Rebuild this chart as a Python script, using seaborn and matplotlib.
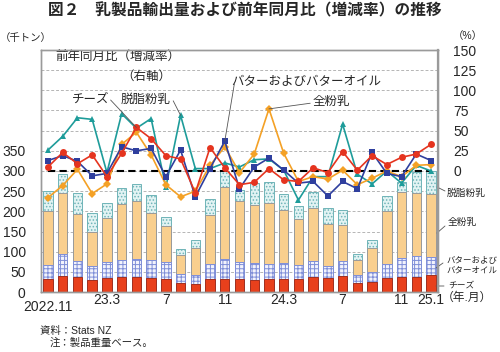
import numpy as np
import matplotlib
matplotlib.use("Agg")
import matplotlib.pyplot as plt
import seaborn as sns

# ---------------- data ----------------
months = ["2022.11", "2022.12", "2023.1", "2023.2", "2023.3", "2023.4", "2023.5",
          "2023.6", "2023.7", "2023.8", "2023.9", "2023.10", "2023.11", "2023.12",
          "2024.1", "2024.2", "2024.3", "2024.4", "2024.5", "2024.6", "2024.7",
          "2024.8", "2024.9", "2024.10", "2024.11", "2024.12", "2025.1"]
tick_idx = [0, 4, 8, 12, 16, 20, 24, 26]
tick_labels = ["2022.11", "23.3", "7", "11", "24.3", "7", "11", "25.1"]

# export volume (thousand tonnes)
cheese = [31, 39, 36, 30, 35, 36, 37, 34, 33, 23, 20, 31, 32, 31, 29, 31, 31, 31, 36, 34, 40, 22, 24, 34, 36, 38, 41]
butter = [37, 54, 41, 34, 40, 43, 45, 45, 41, 22, 21, 39, 51, 43, 44, 38, 42, 37, 41, 30, 37, 19, 26, 36, 48, 52, 47]
whole = [134, 152, 117, 86, 109, 138, 144, 118, 89, 46, 68, 122, 178, 151, 142, 152, 131, 114, 132, 105, 88, 38, 60, 131, 165, 155, 154]
skim = [48, 48, 51, 46, 37, 42, 41, 43, 23, 16, 21, 39, 40, 27, 55, 52, 38, 31, 38, 40, 38, 14, 18, 37, 24, 53, 57]

# year-on-year change (%)
yoy_cheese = [5, 23, 9, 20, -7, 22, 54, 40, 19, 15, -27, 29, 4, -17, -14, 3, -11, -13, 4, -2, 24, 1, 19, 8, 17, 21, 33]
yoy_butter = [13, 19, 12, -6, -3, 30, 25, 28, -7, 26, -32, 3, 37, -22, 5, 16, 1, -15, -13, -31, -13, -22, 23, -3, -7, 21, 13]
yoy_whole = [-33, -18, 2, -28, -16, 33, 48, 20, -17, -32, -25, 7, 30, -2, 21, 77, 22, -13, -7, -10, 1, -17, -9, 0, -7, 7, 8]
yoy_skim = [26, 43, 66, 64, -2, 71, 53, 65, -20, 69, 3, 3, 10, 5, 14, 15, 1, -36, -7, -7, 58, -4, -16, 0, -15, 7, 0]

# ---------------- style ----------------
sns.set_style("white")
plt.rcParams["font.family"] = ["Liberation Sans", "Noto Sans CJK JP", "DejaVu Sans"]
plt.rcParams["hatch.linewidth"] = 0.7

W, H = 500, 352
fig = plt.figure(figsize=(W / 100, H / 100), dpi=100)
ax = fig.add_axes([41 / W, 60 / H, 397 / W, 242 / H])

n = len(months)
x = np.arange(n)
c1 = np.array(cheese)
c2 = c1 + np.array(butter)
c3 = c2 + np.array(whole)
c4 = c3 + np.array(skim)

bw = 0.64
layers = [
    (c4, dict(color="#E2F3F3", edgecolor="#6FB4B8", hatch=".....", linewidth=0.7)),
    (c3, dict(color="#F9CF8E", edgecolor="#9A9A9A", linewidth=0.7)),
    (c2, dict(color="#F2F3FC", edgecolor="#7F8FD8", hatch="++++", linewidth=0.7)),
    (c1, dict(color="#E8401C", edgecolor="#A03020", linewidth=0.7)),
]
for vals, st in layers:
    sns.barplot(x=x, y=vals, ax=ax, width=bw, saturation=1, **st)

ax.set_xlim(-0.475, n - 1 + 0.475)
ax.set_ylim(0, 600)
ax.set_yticks(range(0, 601, 50))
ax.set_yticklabels([str(v) if v <= 350 else "" for v in range(0, 601, 50)])
ax.yaxis.grid(True, color="#B5B5B5", linestyle=(0, (3, 2)), linewidth=0.7)
ax.set_axisbelow(True)
ax.tick_params(axis="y", length=0, pad=11, labelsize=10)
ax.set_xticks(tick_idx)
ax.set_xticklabels(tick_labels)
ax.tick_params(axis="x", length=0, pad=1, labelsize=10)
ax.set_xlabel("")
ax.set_ylabel("")
for s in ax.spines.values():
    s.set_color("#9A9A9A")
    s.set_linewidth(1.0)

# ---------------- right axis lines ----------------
ax2 = ax.twinx()
ax2.set_ylim(-150, 150)
ax2.plot(x, np.zeros(n), color="black", linestyle=(0, (3.5, 2)), linewidth=1.5, zorder=1)
line_specs = [
    (yoy_skim, "#1E9C9A", "^", 5.0),
    (yoy_whole, "#F4A126", "D", 3.8),
    (yoy_butter, "#2F3F9E", "s", 4.2),
    (yoy_cheese, "#E5341F", "o", 5.0),
]
for vals, col, mk, ms in line_specs:
    sns.lineplot(x=x, y=vals, ax=ax2, color=col, marker=mk, markersize=ms,
                 markeredgewidth=0, linewidth=1.2)
ax2.set_xlim(-0.475, n - 1 + 0.475)
ax2.set_yticks(range(0, 151, 25))
ax2.tick_params(axis="y", length=0, pad=11, labelsize=10)
ax2.set_ylabel("")
for s in ax2.spines.values():
    s.set_color("#9A9A9A")
    s.set_linewidth(1.0)
ax2.spines["right"].set_linewidth(1.6)

# lower the first x tick label
ax.xaxis.get_major_ticks()[0].set_pad(6)

# ---------------- annotations ----------------
fs_in = 9
ax.text(0.035, 0.967, "前年同月比（増減率）", transform=ax.transAxes, fontsize=fs_in,
        ha="left", va="center")
ax.text(0.265, 0.888, "（右軸）", transform=ax.transAxes, fontsize=fs_in,
        ha="center", va="center")

lead = dict(arrowstyle="-", color="#555555", lw=0.6, shrinkA=0, shrinkB=0)
ax2.text(2.9, 88.5, "チーズ", fontsize=fs_in, ha="center", va="center")
ax2.annotate("", xy=(6, yoy_cheese[6]), xytext=(4.25, 88), arrowprops=lead)
ax2.text(6.65, 88.5, "脱脂粉乳", fontsize=fs_in, ha="center", va="center")
ax2.annotate("", xy=(9, yoy_skim[9]), xytext=(8.5, 87), arrowprops=lead)
ax2.text(17.5, 110, "バターおよびバターオイル", fontsize=fs_in, ha="center", va="center")
ax2.annotate("", xy=(12, yoy_butter[12]), xytext=(12.65, 108), arrowprops=lead)
ax2.text(19.2, 85, "全粉乳", fontsize=fs_in, ha="center", va="center")
ax2.annotate("", xy=(15, yoy_whole[15]), xytext=(17.8, 84), arrowprops=lead)

# right-side bar legend
def fy(py):
    return 1 - py / H

fig.text(447 / W, fy(192.5), "脱脂粉乳", fontsize=7, ha="left", va="center")
fig.text(448 / W, fy(222.5), "全粉乳", fontsize=7, ha="left", va="center")
fig.text(446 / W, fy(260.5), "バターおよび", fontsize=6.1, ha="left", va="center")
fig.text(446 / W, fy(270.5), "バターオイル", fontsize=6.1, ha="left", va="center")
fig.text(448 / W, fy(285.5), "チーズ", fontsize=6.3, ha="left", va="center")
for (x0, y0, x1, y1) in [(437, 187, 445, 191), (437, 233, 445, 226),
                         (436, 268, 443, 263), (436, 286, 444, 286)]:
    ax.annotate("", xy=(x1, H - y1), xycoords="figure pixels",
                xytext=(x0, H - y0), textcoords="figure pixels",
                arrowprops=lead, annotation_clip=False)

# axis unit labels
fig.text(0 / W, fy(37.5), "（千トン）", fontsize=7.5, ha="left", va="center")
fig.text(468 / W, fy(36), "（%）", fontsize=7.5, ha="center", va="center")
ax.annotate("（年.月）", xy=(26, 0), xycoords=("data", "axes fraction"),
            xytext=(7.5, -4.3), textcoords="offset points", fontsize=8.5,
            ha="left", va="center", annotation_clip=False)

# title
fig.text(245 / W, fy(11), "図２　乳製品輸出量および前年同月比（増減率）の推移",
         fontsize=11.3, fontweight="bold", ha="center", va="center")

# footer
fig.text(40 / W, fy(331), "資料：Stats NZ", fontsize=7.5, ha="left", va="center")
fig.text(50 / W, fy(342.5), "注：製品重量ベース。", fontsize=7.5, ha="left", va="center")

fig.savefig("out.png", dpi=100)
